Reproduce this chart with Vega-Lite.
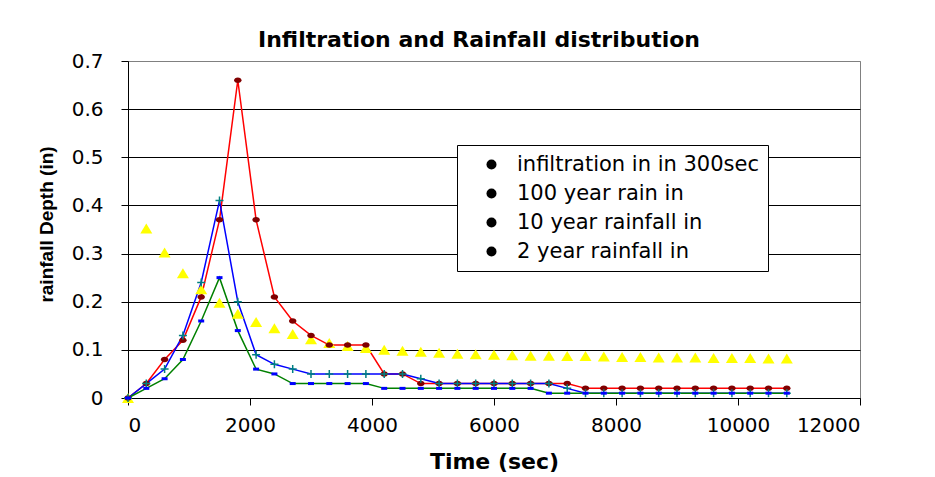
{
  "$schema": "https://vega.github.io/schema/vega-lite/v6.json",
  "width": 732,
  "height": 337,
  "autosize": {"type": "none"},
  "padding": {"left": 128, "top": 61, "right": 75, "bottom": 79},
  "background": "white",
  "title": {
    "text": "Infiltration and Rainfall distribution",
    "font": "DejaVu Sans",
    "fontSize": 22,
    "fontWeight": "bold",
    "color": "black",
    "anchor": "middle",
    "frame": "group",
    "baseline": "alphabetic",
    "offset": 14,
    "dx": -15,
    "dy": 32
  },
  "config": {
    "view": {"stroke": "#808080", "strokeWidth": 1},
    "axis": {
      "labelFont": "DejaVu Sans",
      "labelFontSize": 20,
      "labelColor": "black",
      "domainColor": "black",
      "domainWidth": 1,
      "tickColor": "black",
      "tickSize": 7,
      "tickWidth": 1
    }
  },
  "data": {
    "values": [
      {"t": 0, "inf": 0, "r100": 0, "r10": 0, "r2": 0},
      {"t": 300, "inf": 0.352, "r100": 0.03, "r10": 0.03, "r2": 0.02},
      {"t": 600, "inf": 0.302, "r100": 0.08, "r10": 0.06, "r2": 0.04},
      {"t": 900, "inf": 0.259, "r100": 0.12, "r10": 0.13, "r2": 0.08},
      {"t": 1200, "inf": 0.226, "r100": 0.21, "r10": 0.24, "r2": 0.16},
      {"t": 1500, "inf": 0.198, "r100": 0.37, "r10": 0.41, "r2": 0.25},
      {"t": 1800, "inf": 0.175, "r100": 0.66, "r10": 0.20, "r2": 0.14},
      {"t": 2100, "inf": 0.158, "r100": 0.37, "r10": 0.09, "r2": 0.06},
      {"t": 2400, "inf": 0.145, "r100": 0.21, "r10": 0.07, "r2": 0.05},
      {"t": 2700, "inf": 0.133, "r100": 0.16, "r10": 0.06, "r2": 0.03},
      {"t": 3000, "inf": 0.122, "r100": 0.13, "r10": 0.05, "r2": 0.03},
      {"t": 3300, "inf": 0.114, "r100": 0.11, "r10": 0.05, "r2": 0.03},
      {"t": 3600, "inf": 0.108, "r100": 0.11, "r10": 0.05, "r2": 0.03},
      {"t": 3900, "inf": 0.104, "r100": 0.11, "r10": 0.05, "r2": 0.03},
      {"t": 4200, "inf": 0.100, "r100": 0.05, "r10": 0.05, "r2": 0.02},
      {"t": 4500, "inf": 0.098, "r100": 0.05, "r10": 0.05, "r2": 0.02},
      {"t": 4800, "inf": 0.096, "r100": 0.03, "r10": 0.04, "r2": 0.02},
      {"t": 5100, "inf": 0.094, "r100": 0.03, "r10": 0.03, "r2": 0.02},
      {"t": 5400, "inf": 0.092, "r100": 0.03, "r10": 0.03, "r2": 0.02},
      {"t": 5700, "inf": 0.091, "r100": 0.03, "r10": 0.03, "r2": 0.02},
      {"t": 6000, "inf": 0.090, "r100": 0.03, "r10": 0.03, "r2": 0.02},
      {"t": 6300, "inf": 0.089, "r100": 0.03, "r10": 0.03, "r2": 0.02},
      {"t": 6600, "inf": 0.088, "r100": 0.03, "r10": 0.03, "r2": 0.02},
      {"t": 6900, "inf": 0.088, "r100": 0.03, "r10": 0.03, "r2": 0.01},
      {"t": 7200, "inf": 0.087, "r100": 0.03, "r10": 0.02, "r2": 0.01},
      {"t": 7500, "inf": 0.087, "r100": 0.02, "r10": 0.01, "r2": 0.01},
      {"t": 7800, "inf": 0.086, "r100": 0.02, "r10": 0.01, "r2": 0.01},
      {"t": 8100, "inf": 0.085, "r100": 0.02, "r10": 0.01, "r2": 0.01},
      {"t": 8400, "inf": 0.085, "r100": 0.02, "r10": 0.01, "r2": 0.01},
      {"t": 8700, "inf": 0.084, "r100": 0.02, "r10": 0.01, "r2": 0.01},
      {"t": 9000, "inf": 0.084, "r100": 0.02, "r10": 0.01, "r2": 0.01},
      {"t": 9300, "inf": 0.084, "r100": 0.02, "r10": 0.01, "r2": 0.01},
      {"t": 9600, "inf": 0.083, "r100": 0.02, "r10": 0.01, "r2": 0.01},
      {"t": 9900, "inf": 0.083, "r100": 0.02, "r10": 0.01, "r2": 0.01},
      {"t": 10200, "inf": 0.083, "r100": 0.02, "r10": 0.01, "r2": 0.01},
      {"t": 10500, "inf": 0.082, "r100": 0.02, "r10": 0.01, "r2": 0.01},
      {"t": 10800, "inf": 0.082, "r100": 0.02, "r10": 0.01, "r2": 0.01}
    ]
  },
  "transform": [
    {"fold": ["inf", "r100", "r10", "r2"], "as": ["series", "v"]}
  ],
  "encoding": {
    "x": {
      "field": "t",
      "type": "quantitative",
      "scale": {"domain": [0, 12000], "nice": false, "zero": false},
      "axis": {
        "values": [0, 2000, 4000, 6000, 8000, 10000, 12000],
        "format": "d",
        "grid": false,
        "labelPadding": 10,
        "title": "Time (sec)",
        "titleFont": "DejaVu Sans",
        "titleFontSize": 22,
        "titleFontWeight": "bold",
        "titleColor": "black",
        "titleX": 366,
        "titleY": 70,
        "titleBaseline": "alphabetic",
        "titleAlign": "center"
      }
    },
    "y": {
      "field": "v",
      "type": "quantitative",
      "scale": {"domain": [0, 0.7], "nice": false},
      "axis": {
        "values": [0, 0.1, 0.2, 0.3, 0.4, 0.5, 0.6, 0.7],
        "labelExpr": "datum.value == 0 ? '0' : format(datum.value, '.1f')",
        "grid": true,
        "gridColor": {"condition": {"test": "datum.value >= 0.69", "value": "#808080"}, "value": "black"},
        "gridWidth": 1,
        "labelPadding": 18,
        "title": "rainfall Depth (in)",
        "titleFont": "Liberation Sans",
        "titleFontSize": 19,
        "titleFontWeight": "bold",
        "titleColor": "black",
        "titleAngle": -90,
        "titleX": -76,
        "titleY": 163,
        "titleBaseline": "alphabetic",
        "titleAlign": "center"
      }
    }
  },
  "layer": [
    {
      "transform": [{"filter": "datum.series != 'inf'"}],
      "mark": {"type": "line", "strokeWidth": 1.5},
      "encoding": {
        "color": {
          "field": "series",
          "type": "nominal",
          "scale": {"domain": ["r10", "r100", "r2"], "range": ["#0000FF", "#FF0000", "#008000"]},
          "legend": null
        }
      }
    },
    {
      "mark": {"type": "point", "filled": false, "size": 100, "opacity": 1},
      "encoding": {
        "shape": {
          "field": "series",
          "type": "nominal",
          "scale": {
            "domain": ["r2", "r10", "r100", "inf"],
            "range": [
              "M-0.6,-0.3H0.6V0.3H-0.6Z",
              "M-0.8,0H0.8M0,-0.8V0.8",
              "M-0.75,0A0.75,0.55 0 1,0 0.75,0A0.75,0.55 0 1,0 -0.75,0Z",
              "M0,-1L1.2,1L-1.2,1Z"
            ]
          },
          "legend": null
        },
        "fill": {
          "field": "series",
          "type": "nominal",
          "scale": {"domain": ["r10", "r2", "inf", "r100"], "range": ["transparent", "#0000FF", "#FFFF00", "#800000"]},
          "legend": null
        },
        "stroke": {
          "field": "series",
          "type": "nominal",
          "scale": {"domain": ["r100", "inf", "r2", "r10"], "range": ["transparent", "transparent", "transparent", "#008080"]},
          "legend": null
        },
        "strokeWidth": {
          "field": "series",
          "type": "ordinal",
          "scale": {"type": "ordinal", "domain": ["inf", "r100", "r10", "r2"], "range": [1.5, 1.5, 1.5, 1.5]},
          "legend": {
            "title": null,
            "orient": "none",
            "legendX": 329,
            "legendY": 84,
            "strokeColor": "black",
            "fillColor": "white",
            "padding": 9,
            "rowPadding": 7,
            "symbolSize": 100,
            "symbolOffset": 15,
            "labelOffset": 15,
            "labelLimit": 400,
            "labelFont": "DejaVu Sans",
            "labelFontSize": 21,
            "labelColor": "black",
            "labelExpr": "datum.value == 'inf' ? 'infiltration in in 300sec' : datum.value == 'r100' ? '100 year rain in' : datum.value == 'r10' ? '10 year rainfall in' : '2 year rainfall in'",
            "encode": {
              "symbols": {
                "update": {
                  "shape": {"signal": "datum.value == 'inf' ? 'M0,-0.95L1.1,0.95L-1.1,0.95Z' : datum.value == 'r100' ? 'M-4.2,0H4.2M-0.75,0A0.75,0.55 0 1,0 0.75,0A0.75,0.55 0 1,0 -0.75,0Z' : datum.value == 'r10' ? 'M-4.2,0H4.2M0,-0.8V0.8' : 'M-4.2,0H4.2M-0.6,-0.3H0.6V0.3H-0.6Z'"},
                  "fill": {"signal": "datum.value == 'inf' ? '#FFFF00' : datum.value == 'r100' ? '#800000' : datum.value == 'r10' ? 'transparent' : '#0000FF'"},
                  "stroke": {"signal": "datum.value == 'inf' ? 'transparent' : datum.value == 'r100' ? '#FF4040' : datum.value == 'r10' ? '#4040FF' : '#309030'"},
                  "opacity": {"value": 1}
                }
              }
            }
          }
        }
      }
    }
  ]
}
